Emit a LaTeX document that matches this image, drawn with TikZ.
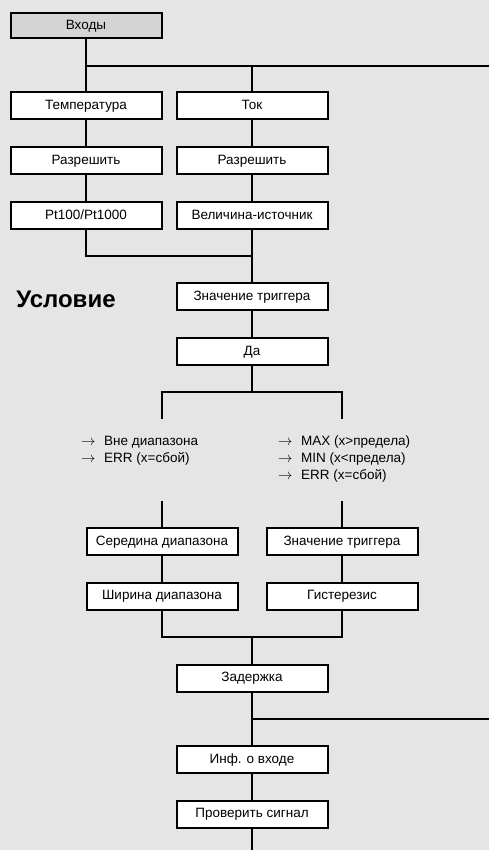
\documentclass[tikz,border=0pt]{standalone}
\usepackage{fontspec}
\setmainfont{Liberation Sans}
\definecolor{fondo}{HTML}{E5E5E5}
\definecolor{cabeza}{HTML}{D4D4D4}
\newcommand{\flecha}{\makebox[23pt][l]{$\rightarrow$}}
\tikzset{
  caja/.style={draw, line width=2pt, fill=white, minimum width=151pt,
    minimum height=27pt, inner sep=0pt, text height=9.7pt, text depth=2.5pt,
    font=\fontsize{13.5}{16}\selectfont},
  linea/.style={line width=2pt},
  lista/.style={anchor=north west, inner sep=0pt, align=left,
    font=\fontsize{13.5}{17}\selectfont}
}
\begin{document}
\begin{tikzpicture}[x=1pt,y=-1pt]
                % Fondo
                \fill[fondo] (0,0) rectangle (489,850);
                \useasboundingbox (0,0) rectangle (489,850);

                % Entradas
                \node[caja, fill=cabeza, minimum height=25pt] (inp) at (86,25.5) {Входы};
                \node[caja] (temp) at (86,106) {Температура};
                \node[caja] (tok) at (252,106) {Ток};
                \node[caja] (en1) at (86,161) {Разрешить};
                \node[caja] (en2) at (252,161) {Разрешить};
                \node[caja] (pt) at (86,215.5) {Pt100/Pt1000};
                \node[caja] (src) at (252,215.5) {Величина-источник};

                \coordinate (j1) at (86,66);
                \coordinate (j1b) at (252,66);
                \coordinate (j1e) at (489,66);
                \draw[linea] (inp.south) -- (j1) -- (temp.north);
                \draw[linea] (j1) -- (j1e);
                \draw[linea] (j1b) -- (tok.north);
                \draw[linea] (temp) -- (en1) -- (pt);
                \draw[linea] (tok) -- (en2) -- (src);

                % Condicion
                \node[font=\fontsize{24}{28}\selectfont\bfseries] (cond) at (66,299) {Условие};
                \node[caja] (trig) at (252,296.5) {Значение триггера};
                \node[caja] (yes) at (252,351.5) {Да};
                \coordinate (j2) at (252,256);
                \draw[linea] (pt.south) |- (j2);
                \draw[linea] (src.south) -- (trig.north);
                \draw[linea] (trig) -- (yes);

                \coordinate (j3) at (252,392);
                \coordinate (j3l) at (162,392);
                \coordinate (j3r) at (342,392);
                \coordinate (e3l) at (162,419);
                \coordinate (e3r) at (342,419);
                \draw[linea] (yes.south) -- (j3);
                \draw[linea] (e3l) -- (j3l) -- (j3r) -- (e3r);

                \node[lista] (listl) at (81,436) {\flecha Вне диапазона\\
                  \flecha ERR (x=сбой)};
                \node[lista] (listr) at (278,436) {\flecha MAX (x>предела)\\
                  \flecha MIN (x<предела)\\
                  \flecha ERR (x=сбой)};

                % Rango / umbral
                \node[caja] (mid) at (162,541.5) {Середина диапазона};
                \node[caja] (trig2) at (342,541.5) {Значение триггера};
                \node[caja] (wid) at (162,596) {Ширина диапазона};
                \node[caja] (hys) at (342,596) {Гистерезис};
                \coordinate (s4l) at (162,501);
                \coordinate (s4r) at (342,501);
                \draw[linea] (s4l) -- (mid.north);
                \draw[linea] (s4r) -- (trig2.north);
                \draw[linea] (mid) -- (wid);
                \draw[linea] (trig2) -- (hys);

                \node[caja] (del) at (252,678) {Задержка};
                \coordinate (j5) at (252,637);
                \draw[linea] (wid.south) |- (j5) -| (hys.south);
                \draw[linea] (j5) -- (del.north);

                % Salida
                \node[caja] (info) at (252,759.5) {Инф. о входе};
                \node[caja] (chk) at (252,814) {Проверить сигнал};
                \coordinate (j6) at (252,719);
                \coordinate (j6e) at (489,719);
                \coordinate (fin) at (252,850);
                \draw[linea] (del.south) -- (info.north);
                \draw[linea] (j6) -- (j6e);
                \draw[linea] (info) -- (chk);
                \draw[linea] (chk.south) -- (fin);
\end{tikzpicture}
\end{document}
